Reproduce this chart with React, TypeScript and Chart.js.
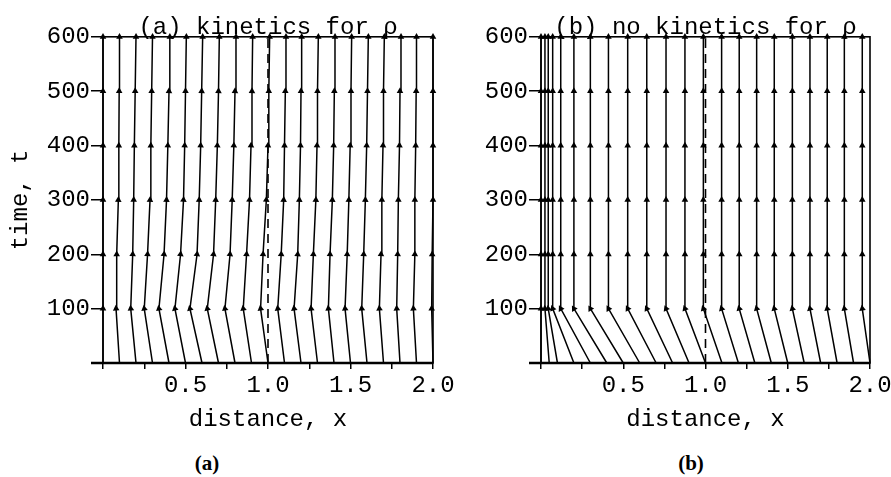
import React, { useEffect, useRef } from "react";
import { Chart, registerables } from "chart.js";

Chart.register(...registerables);

// time levels (t) at which each characteristic is sampled
const tLevels = [0, 100, 200, 300, 400, 500, 600];

// Panel (a): x-position of each characteristic at each time level
const aAt0 = [0, 0.1, 0.2, 0.3, 0.4, 0.5, 0.6, 0.7, 0.8, 0.9, 1.0, 1.1, 1.2, 1.3, 1.4, 1.5, 1.6, 1.7, 1.8, 1.9, 2.0];
const aAt100 = [0, 0.079, 0.168, 0.25, 0.339, 0.436, 0.527, 0.632, 0.739, 0.85, 0.955, 1.059, 1.158, 1.261, 1.366, 1.467, 1.568, 1.675, 1.78, 1.881, 1.992];
const aAt200 = [0, 0.083, 0.18, 0.27, 0.37, 0.47, 0.57, 0.67, 0.77, 0.87, 0.97, 1.08, 1.18, 1.275, 1.376, 1.48, 1.58, 1.685, 1.786, 1.89, 1.995];
const aAt300 = [0, 0.093, 0.186, 0.285, 0.385, 0.488, 0.583, 0.683, 0.783, 0.888, 0.99, 1.095, 1.19, 1.29, 1.39, 1.49, 1.59, 1.69, 1.79, 1.89, 2.0];
const aAt400 = [0, 0.096, 0.19, 0.29, 0.393, 0.495, 0.592, 0.693, 0.793, 0.897, 1.0, 1.1, 1.197, 1.297, 1.398, 1.498, 1.598, 1.697, 1.797, 1.895, 2.0];
const aAt500 = [0, 0.098, 0.195, 0.295, 0.4, 0.5, 0.598, 0.7, 0.8, 0.903, 1.005, 1.105, 1.2, 1.3, 1.402, 1.503, 1.603, 1.7, 1.8, 1.898, 2.0];
const aAt600 = [0, 0.1, 0.2, 0.3, 0.405, 0.505, 0.604, 0.705, 0.806, 0.907, 1.01, 1.109, 1.204, 1.305, 1.406, 1.507, 1.608, 1.705, 1.806, 1.9, 2.0];

// Panel (b): start positions at t = 0, and (vertical) positions for t >= 100
const bAt0 = [0, 0.05, 0.1, 0.2, 0.3, 0.4, 0.5, 0.6, 0.7, 0.8, 0.9, 1.0, 1.1, 1.2, 1.3, 1.4, 1.5, 1.6, 1.7, 1.8, 1.9, 2.0];
const bAt100 = [0, 0.024, 0.044, 0.071, 0.12, 0.2, 0.3, 0.41, 0.527, 0.643, 0.76, 0.875, 0.987, 1.098, 1.205, 1.311, 1.418, 1.528, 1.635, 1.74, 1.844, 1.953];

// dashed interface line
const interfaceX = 1.0;

// axis ticks
const xTickValues = [0, 0.25, 0.5, 0.75, 1.0, 1.25, 1.5, 1.75, 2.0];
const xTickLabels = ["", "", "0.5", "", "1.0", "", "1.5", "", "2.0"];
const yTickLabels = ["", "100", "200", "300", "400", "500", "600"];

const MONO = "'Liberation Mono', 'Courier New', monospace";
const FONT = { family: MONO, size: 24, weight: "normal" as const };

const arrowRotation = (ctx: any) => {
  const i = ctx.dataIndex;
  const data = ctx.dataset.data;
  if (!i) return 0;
  const xs = ctx.chart.scales.x;
  const ys = ctx.chart.scales.y;
  const p0 = data[i - 1];
  const p1 = data[i];
  const dx = xs.getPixelForValue(p1.x) - xs.getPixelForValue(p0.x);
  const dy = ys.getPixelForValue(p1.y) - ys.getPixelForValue(p0.y);
  return (Math.atan2(dx, -dy) * 180) / Math.PI;
};

const lineDataset = (pts: { x: number; y: number }[]) => ({
  data: pts,
  showLine: true,
  borderColor: "#000",
  borderWidth: 1.5,
  pointStyle: "triangle",
  pointRadius: pts.map((p) => (p.y === 0 ? 0 : 3.8)),
  pointBackgroundColor: "#000",
  pointBorderWidth: 0,
  pointRotation: arrowRotation,
  clip: false,
});

const dashedDataset = () => ({
  data: [
    { x: interfaceX, y: tLevels[0] },
    { x: interfaceX, y: tLevels[tLevels.length - 1] },
  ],
  showLine: true,
  borderColor: "#000",
  borderWidth: 1.6,
  borderDash: [9, 6],
  pointRadius: 0,
  clip: false,
});

const buildA = () => {
  const levels = [aAt0, aAt100, aAt200, aAt300, aAt400, aAt500, aAt600];
  const ds: any[] = aAt0.map((_, i) => lineDataset(tLevels.map((t, k) => ({ x: levels[k][i], y: t }))));
  ds.push(dashedDataset());
  return ds;
};

const buildB = () => {
  const ds: any[] = bAt0.map((x0, i) =>
    lineDataset(tLevels.map((t) => ({ x: t === 0 ? x0 : bAt100[i], y: t })))
  );
  ds.push(dashedDataset());
  return ds;
};

const framePlugin = {
  id: "frame",
  afterDatasetsDraw(chart: any) {
    const { left, top, right, bottom } = chart.chartArea;
    const ctx = chart.ctx;
    ctx.save();
    ctx.strokeStyle = "#000";
    ctx.lineWidth = 1.6;
    ctx.strokeRect(left, top, right - left, bottom - top);
    ctx.lineWidth = 2.4;
    ctx.beginPath();
    ctx.moveTo(left - 12, bottom);
    ctx.lineTo(right, bottom);
    ctx.stroke();
    ctx.restore();
  },
};

type PanelProps = {
  title: string;
  datasets: any[];
  left: number;
  width: number;
  yWidth: number;
  padRight: number;
  showYTitle: boolean;
};

function Panel({ title, datasets, left, width, yWidth, padRight, showYTitle }: PanelProps) {
  const ref = useRef<HTMLCanvasElement | null>(null);
  useEffect(() => {
    if (!ref.current) return;
    const chart = new Chart(ref.current, {
      type: "scatter",
      data: { datasets },
      plugins: [framePlugin],
      options: {
        animation: false,
        responsive: false,
        events: [],
        layout: { padding: { left: 0, right: padRight, top: 0, bottom: 0 } },
        plugins: {
          legend: { display: false },
          tooltip: { enabled: false },
          title: {
            display: true,
            text: title,
            fullSize: false,
            color: "#000",
            font: FONT,
            padding: { top: 13, bottom: -5 },
          },
        },
        scales: {
          x: {
            type: "linear",
            min: 0,
            max: 2,
            afterBuildTicks: (s: any) => {
              s.ticks = xTickValues.map((v) => ({ value: v }));
            },
            ticks: {
              autoSkip: false,
              maxRotation: 0,
              color: "#000",
              font: FONT,
              padding: 2,
              callback: (_v: any, i: number) => xTickLabels[i],
            },
            grid: { drawOnChartArea: false, tickLength: 6, color: "#000", lineWidth: 1.5 },
            border: { display: false },
            title: {
              display: true,
              text: "distance, x",
              color: "#000",
              font: FONT,
              padding: { top: 0, bottom: 6 },
            },
            afterFit: (s: any) => {
              s.height = 77;
            },
          },
          y: {
            type: "linear",
            min: 0,
            max: 600,
            afterBuildTicks: (s: any) => {
              s.ticks = tLevels.map((v) => ({ value: v }));
            },
            ticks: {
              color: "#000",
              font: FONT,
              padding: 1,
              callback: (_v: any, i: number) => yTickLabels[i],
            },
            grid: { drawOnChartArea: false, tickLength: 12, color: "#000", lineWidth: 1.5 },
            border: { display: false },
            title: {
              display: showYTitle,
              text: "time, t",
              color: "#000",
              font: FONT,
              padding: { top: 6, bottom: 0 },
            },
            afterFit: (s: any) => {
              s.width = yWidth;
            },
          },
        },
      } as any,
    });
    return () => chart.destroy();
  }, []);
  return (
    <canvas
      ref={ref}
      width={width}
      height={440}
      style={{ position: "absolute", left, top: 0, width, height: 440 }}
    />
  );
}

const captionStyle = (cx: number): React.CSSProperties => ({
  position: "absolute",
  left: cx,
  top: 450,
  transform: "translateX(-50%)",
  fontFamily: "'Liberation Serif', 'DejaVu Serif', serif",
  fontWeight: "bold",
  fontSize: 21,
  lineHeight: "26px",
  color: "#000",
});

export default function App() {
  return (
    <div
      style={{
        position: "fixed",
        left: 0,
        top: 0,
        width: 891,
        height: 477,
        overflow: "hidden",
        background: "#fff",
      }}
    >
      <Panel
        title="(a) kinetics for ρ"
        datasets={buildA()}
        left={0}
        width={470}
        yWidth={103}
        padRight={37}
        showYTitle={true}
      />
      <Panel
        title="(b) no kinetics for ρ"
        datasets={buildB()}
        left={450}
        width={460}
        yWidth={91}
        padRight={40}
        showYTitle={false}
      />
      <div style={captionStyle(207)}>(a)</div>
      <div style={captionStyle(691)}>(b)</div>
    </div>
  );
}
